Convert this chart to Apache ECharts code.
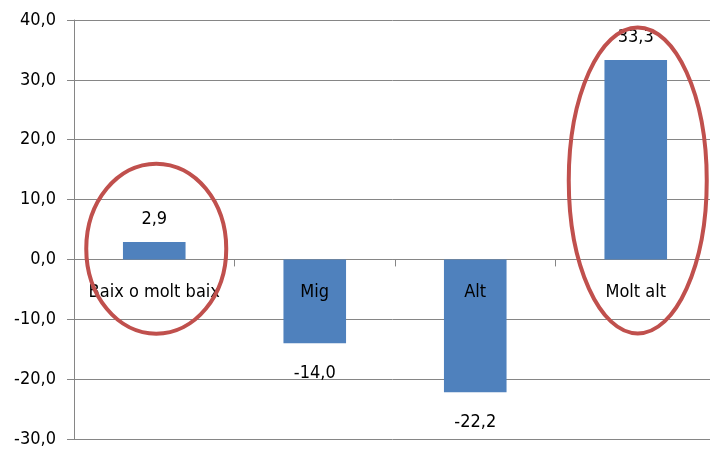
<!DOCTYPE html>
<html><head><meta charset="utf-8">
<script src="https://cdn.jsdelivr.net/npm/echarts@6/dist/echarts.min.js"></script>
<style>html,body{margin:0;padding:0;background:#fff}#c{width:710px;height:450px}</style>
</head><body><div id="c"></div>
<script>
const categories = ['Baix o molt baix', 'Mig', 'Alt', 'Molt alt'];
const values = [2.9, -14.0, -22.2, 33.3];
const yTicks = [-30, -20, -10, 0, 10, 20, 30, 40];

const FONT = '"Liberation Sans Narrow", "DejaVu Sans Condensed", "Noto Sans", sans-serif';
const fmt = v => v.toFixed(1).replace('.', ',');

const chart = echarts.init(document.getElementById('c'));
const data = values.map(v => ({
  value: v,
  label: {position: v >= 0 ? 'top' : 'bottom', distance: v >= 0 ? 14 : 21}
}));
const catLabels = categories.map(c => [c, 0]);

chart.setOption({
  animation: false,
  grid: {left: 74, top: 20, width: 642, height: 419, containLabel: false, outerBoundsMode: 'none'},
  xAxis: {
    type: 'category', data: categories,
    axisLine: {onZero: true, lineStyle: {color: '#868686', width: 1}},
    axisTick: {show: true, inside: false, length: 7, lineStyle: {color: '#868686'}},
    axisLabel: {show: false},
    splitLine: {show: false}
  },
  yAxis: {
    type: 'value', min: yTicks[0], max: yTicks[yTicks.length - 1], interval: 10,
    axisLine: {show: true, lineStyle: {color: '#868686'}},
    axisTick: {show: true, length: 7, lineStyle: {color: '#868686'}},
    axisLabel: {formatter: fmt, color: '#000', fontFamily: FONT, fontSize: 18, margin: 18},
    splitLine: {show: true, lineStyle: {color: '#868686', width: 1}}
  },
  series: [{
    type: 'bar', data: data, barWidth: '39%',
    itemStyle: {color: '#4F81BD'},
    label: {show: true, color: '#000', fontFamily: FONT, fontSize: 18, formatter: p => fmt(p.value)}
  }, {
    type: 'scatter', data: catLabels, symbolSize: 0, silent: true, z: 5,
    itemStyle: {opacity: 1},
    label: {show: true, position: 'bottom', distance: 24, color: '#000', opacity: 1,
      fontFamily: FONT, fontSize: 18, formatter: p => p.value[0]}
  }]
});

const ellipseSpecs = [
  {idx: 0, cy: 1.8, rx: 70, ry: 85},
  {idx: 3, cy: 13.2, rx: 69, ry: 153}
];
const graphics = ellipseSpecs.map(s => {
  const p = chart.convertToPixel({gridIndex: 0}, [categories[s.idx], s.cy]);
  return {
    type: 'ellipse', shape: {cx: p[0] + 2, cy: p[1], rx: s.rx, ry: s.ry},
    style: {fill: 'none', stroke: '#C0504D', lineWidth: 4}, z: 100
  };
});
chart.setOption({graphic: graphics});
</script></body></html>
